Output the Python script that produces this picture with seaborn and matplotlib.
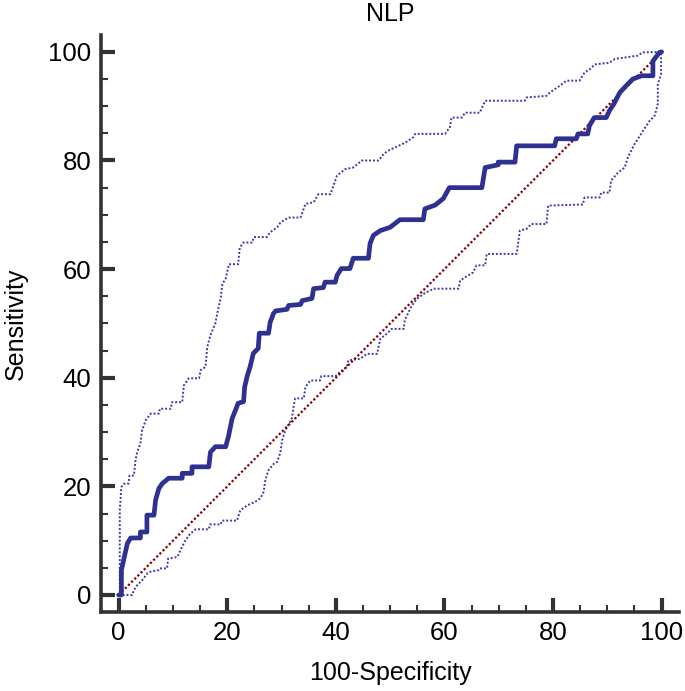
import matplotlib
matplotlib.use("Agg")
import matplotlib.pyplot as plt
import seaborn as sns
from matplotlib.ticker import MultipleLocator

# ROC curve for NLP
roc_x = [0, 0.5, 0.5, 0.9, 1.6, 2.2, 4, 4, 5.2, 5.2, 6.5, 6.8, 7.4, 8, 9.2, 11.7, 11.7, 13.5, 13.5, 16.6,
         16.9, 17.8, 19.7, 20.2, 20.9, 21.5, 22, 23, 23.2, 23.7, 24.2, 24.8, 25.7, 25.9, 27.6, 27.9, 28.5,
         28.9, 31, 31.3, 33.5, 33.8, 35.6, 35.9, 37.7, 38, 39.9, 40.2, 41, 42.6, 43.2, 46, 46.3, 46.9, 48.2,
         50, 51.8, 56.1, 56.4, 58.3, 59.8, 60.9, 66.9, 67.5, 69.9, 69.9, 73, 73.3, 80.3, 80.6, 84.3, 84.6,
         86.4, 86.7, 87.6, 89.8, 90.4, 91.2, 92.3, 93.5, 94.7, 96.3, 98.4, 98.4, 99.6, 100]
roc_y = [0, 0, 4.6, 6.4, 9.5, 10.5, 10.5, 11.6, 11.6, 14.7, 14.7, 17.5, 19.6, 20.5, 21.5, 21.5, 22.4, 22.4,
         23.6, 23.6, 26.3, 27.3, 27.3, 29.1, 32.5, 34, 35.3, 35.6, 38.3, 40.4, 42, 44.5, 45.4, 48.2, 48.2,
         50.2, 51.8, 52.3, 52.6, 53.3, 53.5, 54.2, 54.6, 56.4, 56.6, 57.6, 57.6, 58.8, 60.1, 60.1, 62, 62,
         64.7, 66.2, 67.1, 67.7, 69.1, 69.1, 71.1, 71.8, 73, 75, 75, 78.7, 79.2, 79.7, 79.7, 82.7, 82.7, 84,
         84, 84.9, 84.9, 86.4, 87.9, 87.9, 89.2, 90.4, 92.5, 93.8, 95, 95.6, 95.6, 98.3, 99.9, 100]

upper_x = [0, 0.2, 0.2, 0.5, 1, 1.8, 2, 2.8, 3.1, 3.4, 4, 4.3, 5, 5.9, 7.4, 7.6, 9.6, 9.8, 11.7, 12, 12.9,
           14.8, 15.1, 16, 16.3, 16.9, 17.8, 18.4, 18.8, 19.1, 19.7, 20.3, 22, 22.3, 23, 24.6, 24.9, 27.3,
           27.9, 29.2, 29.8, 31.3, 33.5, 34.4, 35.9, 36.8, 39, 40.2, 41.7, 43.2, 44.8, 47.9, 48.8, 49.6,
           50.9, 52.8, 54.3, 54.6, 60.1, 61, 61.3, 63.2, 63.8, 66.5, 67.5, 74.8, 75.1, 78.8, 79.4, 81.3,
           82.5, 84.9, 85.8, 86.8, 87.7, 90.4, 91.4, 95.6, 96.5, 100]
upper_y = [0, 0, 15.6, 19.9, 20.5, 20.5, 22, 22, 24.8, 26.3, 27.9, 30.3, 32.2, 33.4, 33.4, 34.3, 34.3, 35.5,
           35.5, 38.6, 39.9, 39.9, 41.4, 42, 45.6, 47.8, 50, 53, 54.8, 57.3, 58.2, 60.9, 60.9, 64, 64.9, 64.9,
           65.9, 65.9, 66.8, 67.7, 68.6, 69.5, 69.5, 72, 72.3, 73.8, 73.8, 77.2, 78.4, 78.7, 80, 80, 81.2,
           81.8, 82.4, 83.3, 84.3, 84.9, 84.9, 86.1, 87.9, 87.9, 88.8, 88.8, 91, 91, 91.6, 91.9, 92.5, 93.8,
           94.7, 94.7, 96.2, 96.8, 97.7, 98, 98.7, 99.3, 99.9, 100]

lower_x = [0, 2.5, 2.8, 3.4, 4.4, 5.3, 5.9, 7.4, 7.6, 8.9, 9.1, 10.8, 11.4, 12.3, 13.2, 14.2, 16.6, 16.8,
           18.8, 19, 21.8, 22.4, 23.7, 25.2, 26.1, 26.7, 27, 27.6, 28.6, 29.2, 29.8, 30.1, 30.7, 31.9, 32.2,
           32.5, 34.1, 34.4, 35.3, 37.1, 37.3, 39.9, 40.8, 42, 42.3, 44.5, 45.7, 47.6, 48.2, 49.4, 50.3,
           52.5, 52.7, 53.4, 54, 54.9, 56.1, 58, 62.6, 62.9, 63.8, 65.3, 65.9, 67.5, 67.8, 73.3, 73.9, 75.1,
           76, 78.8, 79.1, 85.5, 85.8, 88.6, 88.9, 90.4, 90.7, 92, 93.2, 93.8, 95, 95.6, 96.6, 97.8, 98.7,
           99.3, 99.3, 99.9, 99.9, 100]
lower_y = [0, 0, 0.9, 1.8, 2.8, 4, 4.3, 4.6, 4.9, 4.9, 6.7, 7, 8.3, 10.1, 11.3, 12.1, 12.1, 13, 13, 13.7,
           13.7, 15.6, 16.5, 17.2, 17.8, 19, 21.1, 23, 24.2, 24.5, 26.3, 28.5, 30.3, 32.5, 34.6, 36.2, 36.2,
           38.3, 39.5, 39.5, 40.3, 40.3, 41.1, 42, 43.2, 43.5, 44.4, 44.4, 47.2, 48.1, 49, 49, 50.6, 52.1,
           53.3, 54.5, 55.4, 56.4, 56.4, 57.9, 58.5, 59.4, 60.7, 60.7, 62.8, 62.8, 67.1, 67.4, 68.3, 68.3,
           71.7, 71.9, 73.2, 73.2, 74.1, 74.1, 76.3, 77.8, 78.7, 80.6, 83, 83.9, 85.5, 87.3, 88.2, 90.4, 94,
           95.9, 100, 100]

diag_x = [0, 100]
diag_y = [0, 100]

sns.set_style("white")
plt.rcParams["font.family"] = ["Liberation Sans", "DejaVu Sans"]
plt.rcParams["text.color"] = "black"
plt.rcParams["axes.labelcolor"] = "black"

fig = plt.figure(figsize=(6.85, 6.91), dpi=100)
ax = fig.add_axes([0.1479, 0.1148, 0.9912 - 0.1479, 0.9493 - 0.1148])

blue = "#2e3192"
sns.lineplot(x=upper_x, y=upper_y, sort=False, estimator=None, color="#3a3aa8", linewidth=1.4,
             linestyle=(0, (1, 1)), ax=ax)
sns.lineplot(x=lower_x, y=lower_y, sort=False, estimator=None, color="#3a3aa8", linewidth=1.4,
             linestyle=(0, (1, 1)), ax=ax)
sns.lineplot(x=diag_x, y=diag_y, sort=False, estimator=None, color="#8b0000", linewidth=1.6,
             linestyle=(0, (1, 1)), ax=ax)
sns.lineplot(x=roc_x, y=roc_y, sort=False, estimator=None, color=blue, linewidth=3.4, ax=ax)

ax.set_xlim(-3.2, 103.2)
ax.set_ylim(-3.07, 103.1)
ax.xaxis.set_major_locator(MultipleLocator(20))
ax.yaxis.set_major_locator(MultipleLocator(20))
ax.xaxis.set_minor_locator(MultipleLocator(5))
ax.yaxis.set_minor_locator(MultipleLocator(5))

sns.despine(ax=ax)
for side in ["left", "bottom"]:
    ax.spines[side].set_linewidth(2.6)
    ax.spines[side].set_color("#333333")

ax.tick_params(which="major", direction="in", length=10, width=3, color="#333333",
               labelsize=18.5, labelcolor="black", pad=7, left=True, bottom=True)
ax.tick_params(which="minor", direction="in", length=5, width=1.5, color="#333333",
               left=True, bottom=True)

ax.set_xlabel("100-Specificity", fontsize=18, labelpad=11)
ax.set_ylabel("Sensitivity", fontsize=18, labelpad=15)
ax.set_title("NLP", fontsize=18, pad=10)

fig.savefig("out.png", dpi=100)
